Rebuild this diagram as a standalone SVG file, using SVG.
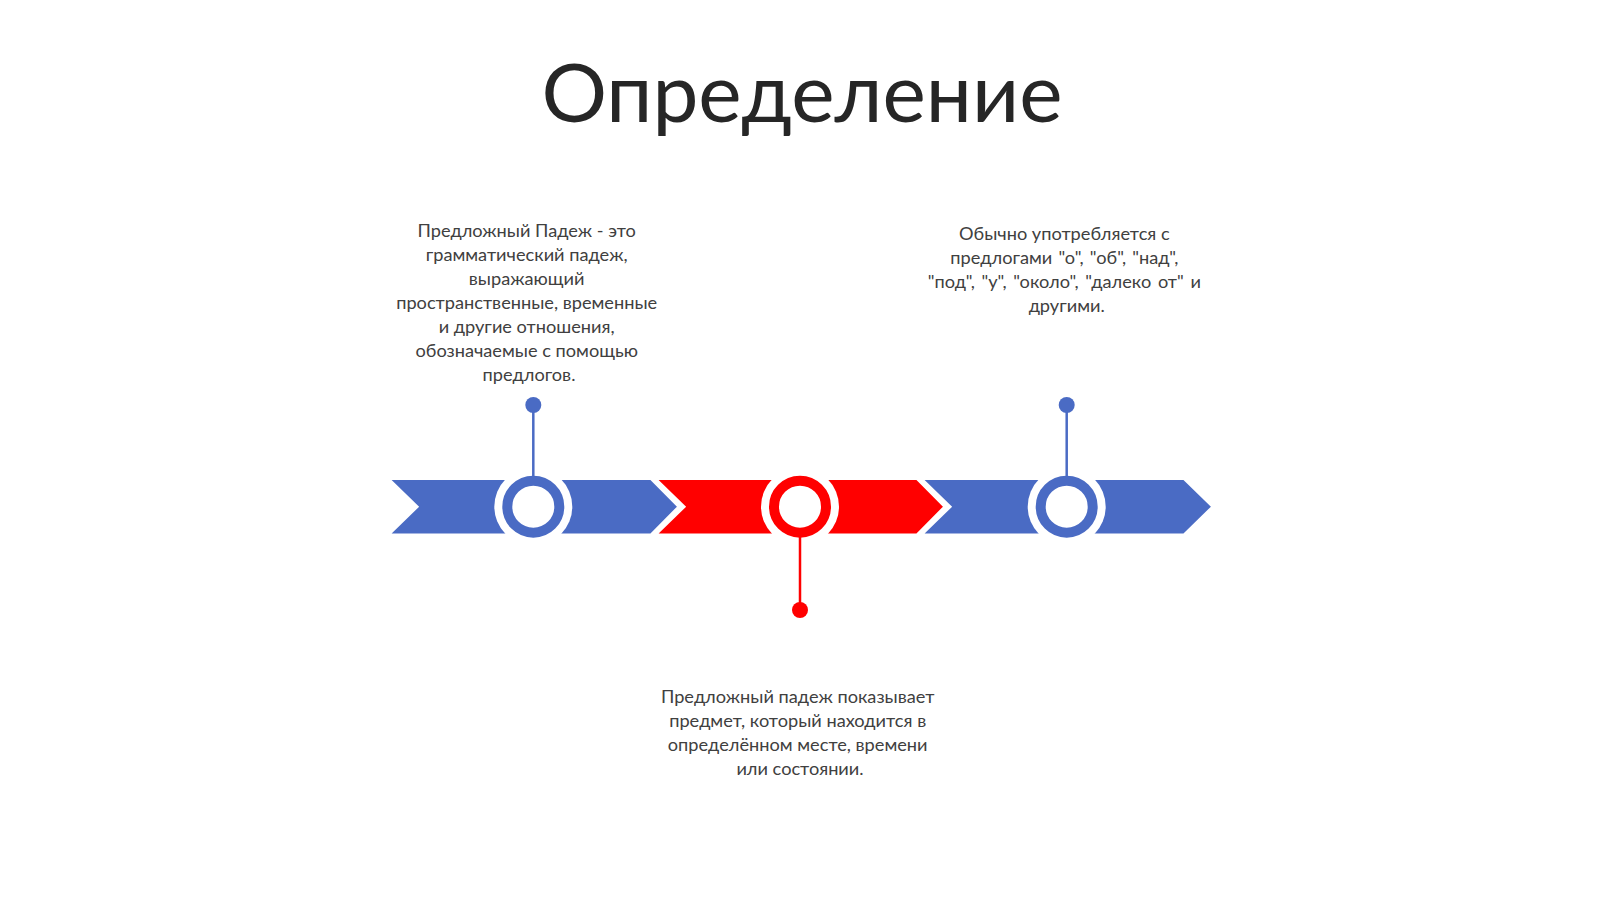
<svg xmlns="http://www.w3.org/2000/svg" width="1600" height="899" viewBox="0 0 1600 899">
  <style>
    .title { font-family: Lato, "Liberation Sans", sans-serif; font-size: 82px; fill: #262626; text-anchor: middle; }
    .body { font-family: Lato, "Liberation Sans", sans-serif; font-size: 18.2px; fill: #404040; text-anchor: middle; }
    .blue { fill: #4A6BC4; stroke: #ffffff; stroke-width: 3; stroke-linejoin: miter; }
    .red { fill: #FF0000; stroke: #ffffff; stroke-width: 3; stroke-linejoin: miter; }
    .halo { fill: #ffffff; }
    .ring-blue { fill: #ffffff; stroke: #4A6BC4; stroke-width: 10; }
    .ring-red { fill: #ffffff; stroke: #FF0000; stroke-width: 10; }
    .conn-blue { stroke: #4A6BC4; stroke-width: 2.5; fill: none; }
    .conn-red { stroke: #FF0000; stroke-width: 2.5; fill: none; }
  </style>
  <defs>
    <marker id="dot-blue" markerUnits="userSpaceOnUse" markerWidth="18" markerHeight="18" refX="9" refY="9" viewBox="0 0 18 18">
      <circle cx="9" cy="9" r="8" fill="#4A6BC4"/>
    </marker>
    <marker id="dot-red" markerUnits="userSpaceOnUse" markerWidth="18" markerHeight="18" refX="9" refY="9" viewBox="0 0 18 18">
      <circle cx="9" cy="9" r="8" fill="#FF0000"/>
    </marker>
  </defs>
  <rect width="1600" height="899" fill="#ffffff"/>

  <g id="title">
    <text class="title" x="802" y="122">Определение</text>
  </g>

  <g id="band">
    <polygon id="chevron-1" class="blue" points="388,478.5 651,478.5 679,506.7 651,535 388,535 417,506.7"/>
    <polygon id="chevron-2" class="red" points="655,478.5 917,478.5 945,506.7 917,535 655,535 684,506.7"/>
    <polygon id="chevron-3" class="blue" points="921,478.5 1184,478.5 1213,506.7 1184,535 921,535 950,506.7"/>
  </g>

  <g id="node-1">
    <circle class="halo" cx="533.3" cy="506.7" r="39"/>
    <circle class="ring-blue" cx="533.3" cy="506.7" r="26"/>
    <text class="body">
      <tspan x="529" y="237">Предложный Падеж - это</tspan>
      <tspan x="529" y="261">грамматический падеж,</tspan>
      <tspan x="529" y="285">выражающий</tspan>
      <tspan x="529" y="309">пространственные, временные</tspan>
      <tspan x="529" y="333">и другие отношения,</tspan>
      <tspan x="529" y="357">обозначаемые с помощью</tspan>
      <tspan x="529" y="381">предлогов.</tspan>
    </text>
  </g>

  <g id="node-2">
    <circle class="halo" cx="800" cy="506.7" r="39"/>
    <circle class="ring-red" cx="800" cy="506.7" r="26"/>
    <text class="body">
      <tspan x="800" y="703">Предложный падеж показывает</tspan>
      <tspan x="800" y="727">предмет, который находится в</tspan>
      <tspan x="800" y="751">определённом месте, времени</tspan>
      <tspan x="800" y="775">или состоянии.</tspan>
    </text>
  </g>

  <g id="node-3">
    <circle class="halo" cx="1066.7" cy="506.7" r="39"/>
    <circle class="ring-blue" cx="1066.7" cy="506.7" r="26"/>
    <text class="body">
      <tspan x="1066.7" y="240">Обычно употребляется с</tspan>
      <tspan x="1066.7" y="264" word-spacing="1.5">предлогами "о", "об", "над",</tspan>
      <tspan x="1066.7" y="288" word-spacing="2">"под", "у", "около", "далеко от" и</tspan>
      <tspan x="1066.7" y="312">другими.</tspan>
    </text>
  </g>

  <g id="connectors">
    <line class="conn-blue" x1="533.3" y1="405" x2="533.3" y2="477" marker-start="url(#dot-blue)"/>
    <line class="conn-red" x1="800" y1="610" x2="800" y2="537" marker-start="url(#dot-red)"/>
    <line class="conn-blue" x1="1066.7" y1="405" x2="1066.7" y2="477" marker-start="url(#dot-blue)"/>
  </g>
</svg>
